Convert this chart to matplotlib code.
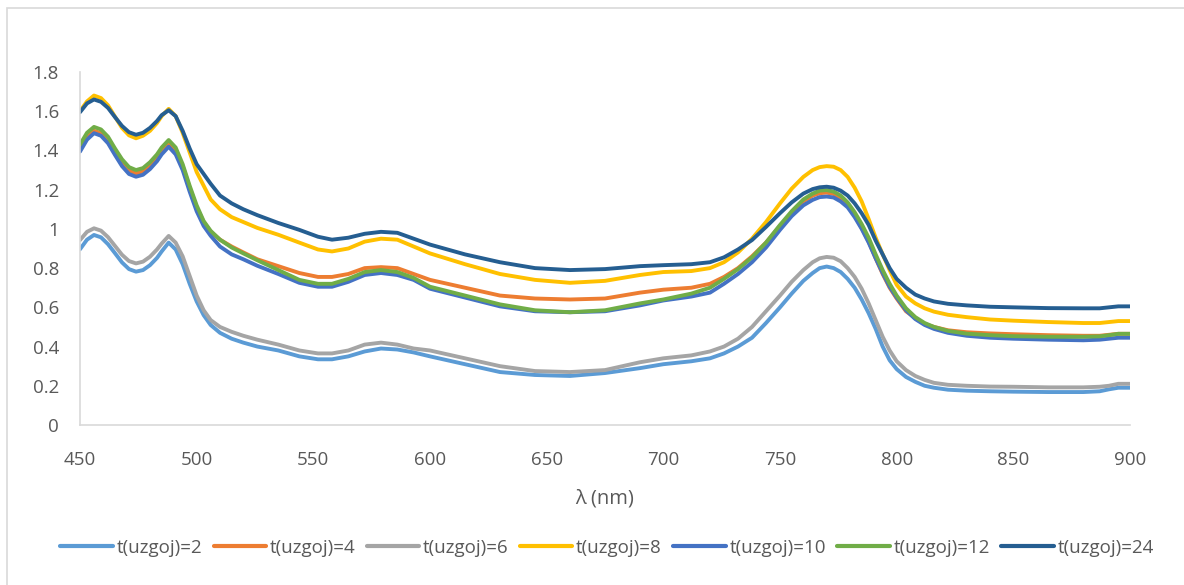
import matplotlib
matplotlib.use("Agg")
import matplotlib.pyplot as plt
from matplotlib.patches import Rectangle

plt.rcParams['font.family'] = ['Open Sans', 'DejaVu Sans']

wavelength = [450, 453, 456, 459, 462, 465, 468, 471, 474, 477, 480, 483, 485, 488, 491, 494, 497, 500,
              503, 506, 510, 515, 520, 526,
              535, 544, 552, 558, 565, 572, 579, 586, 593, 600, 615, 630, 645, 660, 675, 690, 700,
              712, 720, 726, 732, 738, 744, 750, 755, 760, 764, 767, 770, 773, 776, 779, 782, 785,
              788, 791, 794, 797, 800, 804, 808, 812, 816, 822, 830, 840, 850, 865, 880, 887, 891,
              895, 900]

t2 = [0.896, 0.945, 0.969, 0.957, 0.922, 0.876, 0.829, 0.795, 0.782, 0.79, 0.815, 0.852, 0.885, 0.93,
      0.895, 0.82, 0.72, 0.63, 0.56, 0.51, 0.47, 0.44, 0.42, 0.40,
      0.38, 0.35, 0.335, 0.335, 0.35, 0.375, 0.39, 0.385, 0.37, 0.35, 0.31, 0.27, 0.255, 0.25, 0.265,
      0.29, 0.31,
      0.325, 0.34, 0.365, 0.40, 0.445, 0.52, 0.60, 0.67, 0.735, 0.775, 0.80, 0.808, 0.80, 0.78, 0.745,
      0.70, 0.64, 0.57, 0.49, 0.40, 0.33, 0.285, 0.245, 0.22, 0.20, 0.19, 0.18, 0.175, 0.172, 0.17,
      0.168, 0.168, 0.172, 0.182, 0.19, 0.19]

t4 = [1.415, 1.47, 1.50, 1.488, 1.452, 1.393, 1.337, 1.297, 1.283, 1.293, 1.322, 1.362, 1.398, 1.437,
      1.40, 1.32, 1.21, 1.11, 1.035, 0.985, 0.945, 0.91, 0.88, 0.845,
      0.81, 0.775, 0.755, 0.755, 0.77, 0.80, 0.805, 0.80, 0.77, 0.74, 0.70, 0.66, 0.645, 0.64, 0.645,
      0.675, 0.69,
      0.70, 0.72, 0.755, 0.80, 0.86, 0.93, 1.015, 1.08, 1.14, 1.17, 1.182, 1.185, 1.178, 1.155, 1.12,
      1.07, 1.005, 0.935, 0.85, 0.77, 0.70, 0.645, 0.58, 0.545, 0.515, 0.50, 0.483, 0.473, 0.467,
      0.463, 0.458, 0.455, 0.455, 0.46, 0.465, 0.465]

t6 = [0.943, 0.985, 1.003, 0.991, 0.958, 0.913, 0.868, 0.836, 0.824, 0.833, 0.858, 0.895, 0.925, 0.964,
      0.93, 0.86, 0.76, 0.66, 0.585, 0.535, 0.50, 0.475, 0.455, 0.435,
      0.41, 0.38, 0.365, 0.365, 0.38, 0.41, 0.42, 0.41, 0.39, 0.38, 0.34, 0.30, 0.275, 0.27, 0.28,
      0.32, 0.34,
      0.355, 0.375, 0.40, 0.44, 0.50, 0.58, 0.66, 0.73, 0.79, 0.83, 0.85, 0.857, 0.853, 0.835, 0.80,
      0.755, 0.695, 0.62, 0.535, 0.45, 0.38, 0.325, 0.28, 0.25, 0.23, 0.215, 0.205, 0.20, 0.196,
      0.195, 0.192, 0.192, 0.195, 0.20, 0.21, 0.21]

t8 = [1.60, 1.65, 1.68, 1.667, 1.63, 1.572, 1.515, 1.477, 1.462, 1.475, 1.50, 1.54, 1.575, 1.612,
      1.575, 1.49, 1.39, 1.29, 1.22, 1.15, 1.10, 1.06, 1.035, 1.005,
      0.97, 0.93, 0.895, 0.885, 0.90, 0.935, 0.95, 0.945, 0.91, 0.875, 0.82, 0.77, 0.74, 0.725, 0.735,
      0.765, 0.78,
      0.785, 0.80, 0.83, 0.88, 0.95, 1.035, 1.13, 1.205, 1.265, 1.30, 1.315, 1.32, 1.317, 1.30, 1.265,
      1.21, 1.14, 1.05, 0.955, 0.87, 0.79, 0.715, 0.655, 0.62, 0.595, 0.578, 0.562, 0.55, 0.538,
      0.532, 0.525, 0.52, 0.52, 0.525, 0.53, 0.53]

t10 = [1.394, 1.455, 1.488, 1.475, 1.437, 1.377, 1.32, 1.28, 1.266, 1.276, 1.305, 1.345, 1.38, 1.419,
       1.38, 1.30, 1.19, 1.09, 1.015, 0.965, 0.91, 0.87, 0.845, 0.812,
       0.77, 0.725, 0.705, 0.705, 0.73, 0.765, 0.775, 0.765, 0.74, 0.695, 0.65, 0.605, 0.58, 0.575,
       0.58, 0.61, 0.635,
       0.655, 0.675, 0.72, 0.77, 0.83, 0.905, 0.995, 1.065, 1.12, 1.148, 1.162, 1.165, 1.16, 1.14,
       1.11, 1.06, 1.00, 0.93, 0.85, 0.775, 0.705, 0.65, 0.585, 0.54, 0.51, 0.49, 0.47, 0.455, 0.445,
       0.44, 0.435, 0.432, 0.435, 0.44, 0.445, 0.445]

t12 = [1.43, 1.49, 1.52, 1.507, 1.47, 1.41, 1.355, 1.315, 1.30, 1.31, 1.34, 1.38, 1.415, 1.453,
       1.415, 1.33, 1.22, 1.12, 1.04, 0.99, 0.945, 0.905, 0.875, 0.84,
       0.79, 0.74, 0.72, 0.72, 0.745, 0.78, 0.79, 0.78, 0.75, 0.705, 0.66, 0.615, 0.585, 0.575, 0.585,
       0.62, 0.64,
       0.67, 0.70, 0.745, 0.795, 0.855, 0.93, 1.02, 1.09, 1.15, 1.18, 1.195, 1.198, 1.19, 1.17, 1.135,
       1.085, 1.025, 0.955, 0.87, 0.79, 0.72, 0.66, 0.595, 0.55, 0.52, 0.50, 0.48, 0.466, 0.458,
       0.453, 0.45, 0.45, 0.452, 0.458, 0.465, 0.465]

t24 = [1.595, 1.64, 1.66, 1.648, 1.617, 1.57, 1.525, 1.493, 1.48, 1.49, 1.515, 1.55, 1.58, 1.605,
       1.575, 1.50, 1.41, 1.33, 1.28, 1.23, 1.17, 1.13, 1.10, 1.07,
       1.03, 0.995, 0.96, 0.945, 0.955, 0.975, 0.985, 0.98, 0.95, 0.92, 0.87, 0.83, 0.80, 0.79, 0.795,
       0.81, 0.815,
       0.82, 0.83, 0.855, 0.895, 0.943, 1.01, 1.08, 1.135, 1.18, 1.203, 1.212, 1.215, 1.21, 1.195,
       1.17, 1.13, 1.08, 1.02, 0.94, 0.87, 0.80, 0.745, 0.70, 0.665, 0.645, 0.63, 0.618, 0.61, 0.603,
       0.60, 0.596, 0.595, 0.595, 0.60, 0.605, 0.605]

series = [t2, t4, t6, t8, t10, t12, t24]
labels = ["t(uzgoj)=2", "t(uzgoj)=4", "t(uzgoj)=6", "t(uzgoj)=8",
          "t(uzgoj)=10", "t(uzgoj)=12", "t(uzgoj)=24"]
colors = ["#5B9BD5", "#ED7D31", "#A5A5A5", "#FFC000", "#4472C4", "#70AD47", "#255E91"]

x_ticks = [450, 500, 550, 600, 650, 700, 750, 800, 850, 900]
y_ticks = [0, 0.2, 0.4, 0.6, 0.8, 1.0, 1.2, 1.4, 1.6, 1.8]
y_tick_labels = ["0", "0.2", "0.4", "0.6", "0.8", "1", "1.2", "1.4", "1.6", "1.8"]

W, H = 1184, 585
fig = plt.figure(figsize=(W / 100, H / 100), dpi=100)
ax = fig.add_axes([80 / W, (H - 425) / H, (1130 - 80) / W, (425 - 72) / H])

for ys, lab, c in zip(series, labels, colors):
    ax.plot(wavelength, ys, color=c, lw=2.8, label=lab,
            solid_joinstyle='round', solid_capstyle='round')

ax.set_xlim(450, 900)
ax.set_ylim(0, 1.8)
ax.set_xticks(x_ticks)
ax.set_yticks(y_ticks)
ax.set_yticklabels(y_tick_labels)
ax.tick_params(length=0, labelsize=13.5, labelcolor="#595959")
ax.tick_params(axis="x", pad=19)
ax.tick_params(axis="y", pad=15)
for s in ["top", "right"]:
    ax.spines[s].set_visible(False)
for s in ["left", "bottom"]:
    ax.spines[s].set_color("#D9D9D9")
    ax.spines[s].set_linewidth(1.2)

ax.set_xlabel("λ (nm)", fontsize=14.5, color="#595959", labelpad=14)

leg = fig.legend(loc="center", bbox_to_anchor=(607 / W, (H - 548) / H), ncol=7,
                 frameon=False, fontsize=13.5, handlelength=2.8, handletextpad=0.2,
                 columnspacing=0.6, labelcolor="#595959")
for line in leg.get_lines():
    line.set_linewidth(3)

fig.patches.append(Rectangle((7 / W, -0.1), 1.2, (H - 8) / H + 0.1,
                             transform=fig.transFigure, fill=False,
                             edgecolor="#D9D9D9", lw=1.2))

fig.savefig("out.png", dpi=100, facecolor="white")
